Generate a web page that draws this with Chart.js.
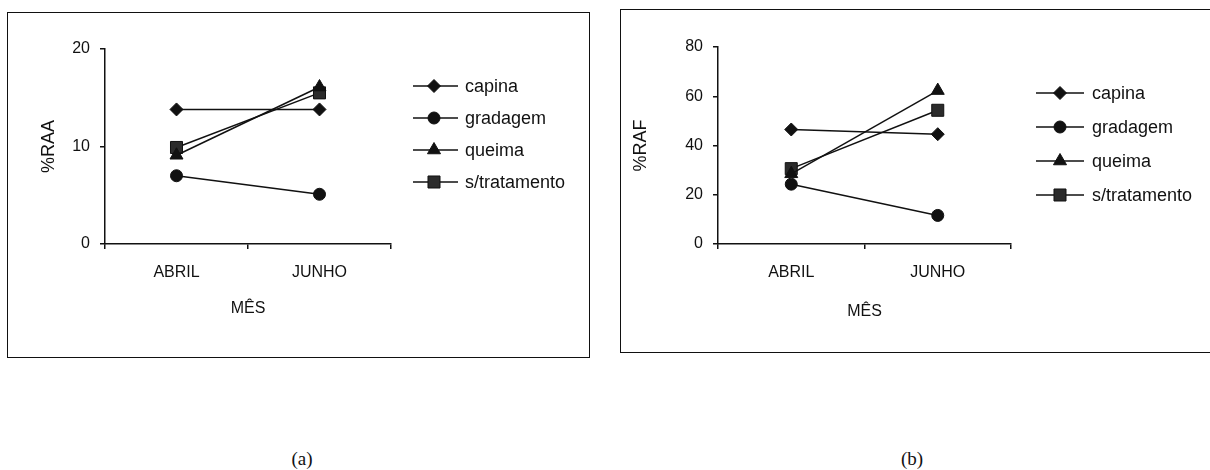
<!DOCTYPE html>
<html>
<head>
<meta charset="utf-8">
<script src="https://cdn.jsdelivr.net/npm/chart.js@4/dist/chart.umd.min.js"></script>
<style>
  body { margin: 0; background: #fff; width: 1210px; height: 470px; overflow: hidden; position: relative; }
  .box { position: absolute; border: 1.5px solid #111; box-sizing: border-box; }
  .box canvas { position: absolute; left: 0; top: 0; }
  .cap { position: absolute; font-family: 'Liberation Serif', 'DejaVu Serif', serif; font-size: 19px; color: #111; transform: translate(-50%, -50%); }
</style>
</head>
<body>
<div class="box" id="boxA" style="left:7px; top:12px; width:583px; height:346px;"><canvas id="chartA" width="580" height="343"></canvas></div>
<div class="box" id="boxB" style="left:620px; top:9px; width:600px; height:344px;"><canvas id="chartB" width="597" height="341"></canvas></div>
<div class="cap" style="left:302px; top:459px;">(a)</div>
<div class="cap" style="left:912px; top:459px;">(b)</div>
<script>
// dados
var meses = ['ABRIL', 'JUNHO'];
var tratamentos = ['capina', 'gradagem', 'queima', 's/tratamento'];

// (a) %RAA
var raaCapina = [13.8, 13.8];
var raaGradagem = [7.0, 5.1];
var raaQueima = [9.1, 16.1];
var raaSemTrat = [9.9, 15.5];
var raaTicks = [0, 10, 20];

// (b) %RAF
var rafCapina = [46.5, 44.6];
var rafGradagem = [24.3, 11.6];
var rafQueima = [28.5, 62.3];
var rafSemTrat = [30.6, 54.3];
var rafTicks = [0, 20, 40, 60, 80];

var fontFam = "'Liberation Sans', Arial, sans-serif";
Chart.defaults.color = '#111';
Chart.defaults.font.family = fontFam;

var estilos = [
  { pointStyle: 'rectRot', radius: 6.5, fill: '#111' },
  { pointStyle: 'circle', radius: 6, fill: '#111' },
  { pointStyle: 'triangle', radius: 7.5, fill: '#111' },
  { pointStyle: 'rect', radius: 8.5, fill: '#2b2b2b' }
];

function marcador(ctx, st, x, y) {
  var r = st.radius;
  ctx.beginPath();
  if (st.pointStyle == 'circle') {
    ctx.arc(x, y, r, 0, Math.PI * 2);
  } else if (st.pointStyle == 'rectRot') {
    ctx.moveTo(x, y - r); ctx.lineTo(x + r, y); ctx.lineTo(x, y + r); ctx.lineTo(x - r, y);
  } else if (st.pointStyle == 'triangle') {
    ctx.moveTo(x, y - r); ctx.lineTo(x + r * 0.87, y + r * 0.5); ctx.lineTo(x - r * 0.87, y + r * 0.5);
  } else {
    var s = r * Math.SQRT1_2;
    ctx.rect(x - s, y - s, s * 2, s * 2);
  }
  ctx.closePath();
  ctx.fill();
  ctx.stroke();
}

// legenda desenhada com linha atravessando o marcador
var legendaLinhas = {
  id: 'legendaLinhas',
  afterDraw: function (chart, args, o) {
    var ctx = chart.ctx;
    chart.data.datasets.forEach(function (ds, i) {
      var y = o.top + i * o.gap;
      ctx.save();
      ctx.strokeStyle = '#111';
      ctx.lineWidth = 1.5;
      ctx.beginPath();
      ctx.moveTo(o.x0, y);
      ctx.lineTo(o.x1, y);
      ctx.stroke();
      ctx.fillStyle = estilos[i].fill;
      ctx.lineWidth = 1;
      marcador(ctx, estilos[i], o.xm, y);
      ctx.fillStyle = '#111';
      ctx.font = o.fontSize + 'px ' + fontFam;
      ctx.textBaseline = 'middle';
      ctx.textAlign = 'left';
      ctx.fillText(ds.label, o.xt, y + 1);
      ctx.restore();
    });
  }
};

function montaDatasets(series) {
  return series.map(function (vals, i) {
    return {
      label: tratamentos[i],
      data: vals,
      borderColor: '#111',
      borderWidth: 1.5,
      backgroundColor: estilos[i].fill,
      pointBackgroundColor: estilos[i].fill,
      pointBorderColor: '#111',
      pointBorderWidth: 1,
      pointStyle: estilos[i].pointStyle,
      pointRadius: estilos[i].radius,
      tension: 0
    };
  });
}

function criaGrafico(id, series, ticks, titulo, lay) {
  var ctx = document.getElementById(id).getContext('2d');
  return new Chart(ctx, {
    type: 'line',
    data: { labels: meses, datasets: montaDatasets(series) },
    options: {
      responsive: false,
      animation: false,
      devicePixelRatio: 1,
      layout: { padding: { left: 0, top: lay.top, right: lay.right, bottom: lay.bottom } },
      plugins: {
        legend: { display: false },
        tooltip: { enabled: false },
        legendaLinhas: lay.legenda
      },
      scales: {
        x: {
          type: 'category',
          offset: true,
          grid: { offset: true, drawOnChartArea: false, drawTicks: true, tickLength: 5, color: '#111', lineWidth: 1.5 },
          border: { display: true, color: '#111', width: 1.5 },
          ticks: { font: { size: 16 }, padding: lay.xPad, maxRotation: 0 },
          title: { display: true, text: 'MÊS', font: { size: 16 }, padding: 0 },
          afterFit: function (s) { s.height = lay.xHeight; }
        },
        y: {
          min: ticks[0],
          max: ticks[ticks.length - 1],
          grid: { drawOnChartArea: false, drawTicks: true, tickLength: 5, color: '#111', lineWidth: 1.5 },
          border: { display: true, color: '#111', width: 1.5 },
          ticks: { stepSize: ticks[1] - ticks[0], font: { size: 16 }, padding: 10 },
          title: { display: true, text: titulo, font: { size: 18 }, padding: { top: lay.yTitlePad } },
          afterFit: function (s) { s.width = lay.yWidth; }
        }
      }
    },
    plugins: [legendaLinhas]
  });
}

criaGrafico('chartA', [raaCapina, raaGradagem, raaQueima, raaSemTrat], raaTicks, '%RAA', {
  top: 36, right: 197, bottom: 38, xHeight: 74, yWidth: 97, xPad: 14, yTitlePad: 30,
  legenda: { x0: 405, x1: 450, xm: 426, xt: 457, top: 73, gap: 32, fontSize: 18 }
});

criaGrafico('chartB', [rafCapina, rafGradagem, rafQueima, rafSemTrat], rafTicks, '%RAF', {
  top: 37, right: 207, bottom: 30, xHeight: 77, yWidth: 97, xPad: 14, yTitlePad: 9,
  legenda: { x0: 415, x1: 463, xm: 439, xt: 471, top: 83, gap: 34, fontSize: 18 }
});
</script>
</body>
</html>
